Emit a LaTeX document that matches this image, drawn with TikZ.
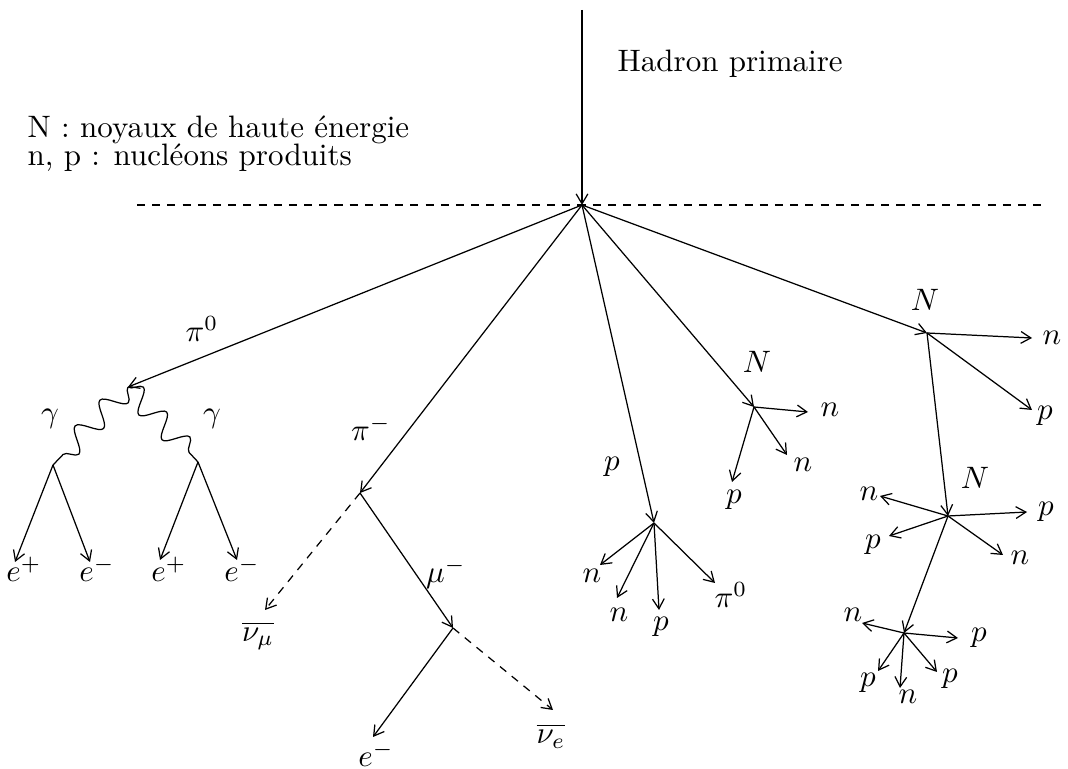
\documentclass[tikz,border=0pt]{standalone}
\usepackage{amsmath,amssymb}
\usepackage{tikz}
\usetikzlibrary{arrows.meta, decorations.pathmorphing}

\begin{document}
\begin{tikzpicture}[
    x=0.3226pt, y=-0.3226pt,
    arrow/.style={-{Straight Barb[length=3.2pt, width=3.8pt]}},
    nuarrow/.style={arrow, dash pattern=on 2.6pt off 2.3pt},
    axis/.style={dash pattern=on 2.6pt off 2.3pt},
    photon/.style={decorate, decoration={snake, amplitude=3.6pt, segment length=#1}},
    lbl/.style={inner sep=0pt},
    elbl/.style={inner sep=0pt, anchor=base},
]
\useasboundingbox (0,0) rectangle (1068,769);

% vertices
\coordinate (top) at (582,10);
\coordinate (v0) at (582,205);
\coordinate (hl) at (137,205);
\coordinate (hr) at (1045,205);
\coordinate (g0) at (128,387);
\coordinate (g1) at (53,465);
\coordinate (g2) at (198,462);
\coordinate (pim) at (360,493);
\coordinate (mu) at (453,628);
\coordinate (pv) at (654,523);
\coordinate (n1) at (754,407);
\coordinate (n2) at (927,333);
\coordinate (n3) at (948,516);
\coordinate (n4) at (904,633);

% free ends
\coordinate (e1) at (15,562);
\coordinate (e2) at (90,562);
\coordinate (e3) at (160,560);
\coordinate (e4) at (237,560);
\coordinate (num) at (265,610);
\coordinate (em) at (373,737);
\coordinate (nue) at (553,710);
\coordinate (pv1) at (600,565);
\coordinate (pv2) at (617,598);
\coordinate (pv3) at (659,610);
\coordinate (pv4) at (715,583);
\coordinate (n1a) at (808,412);
\coordinate (n1b) at (787,455);
\coordinate (n1c) at (732,482);
\coordinate (n2a) at (1032,338);
\coordinate (n2b) at (1032,410);
\coordinate (n3a) at (880,496);
\coordinate (n3b) at (1027,512);
\coordinate (n3c) at (889,536);
\coordinate (n3d) at (1003,555);
\coordinate (n4a) at (862,623);
\coordinate (n4b) at (958,638);
\coordinate (n4c) at (878,671);
\coordinate (n4d) at (900,688);
\coordinate (n4e) at (937,672);

% texts
\node[lbl, anchor=base west] (hadron) at (617,72) {Hadron primaire};
\node[lbl, anchor=base west] (leg1) at (27,138) {N : noyaux de haute énergie};
\node[lbl, anchor=base west] (leg2) at (27,166) {n, p : nucléons produits};

\node[lbl] (lpi0) at (202,329) {$\pi^0$};
\node[lbl] (lga1) at (50,419) {$\gamma$};
\node[lbl] (lga2) at (212,419) {$\gamma$};
\node[elbl] (le1) at (24,582) {$e^+$};
\node[elbl] (le2) at (97,582) {$e^-$};
\node[elbl] (le3) at (169,582) {$e^+$};
\node[elbl] (le4) at (242,582) {$e^-$};
\node[lbl] (lpim) at (371,428) {$\pi^-$};
\node[lbl] (lnum) at (258,636) {$\overline{\nu_\mu}$};
\node[lbl] (lmu) at (446,573) {$\mu^-$};
\node[lbl] (lem) at (376,754) {$e^-$};
\node[lbl] (lnue) at (551,736) {$\overline{\nu_e}$};
\node[lbl] (lp) at (612,467) {$p$};
\node[lbl] (lpv1) at (592,576) {$n$};
\node[lbl] (lpv2) at (619,615) {$n$};
\node[lbl] (lpv3) at (661,627) {$p$};
\node[lbl] (lpv4) at (731,595) {$\pi^0$};
\node[lbl] (ln1) at (757,362) {$N$};
\node[lbl] (ln1a) at (830,410) {$n$};
\node[lbl] (ln1b) at (803,465) {$n$};
\node[lbl] (ln1c) at (734,500) {$p$};
\node[lbl] (ln2) at (925,300) {$N$};
\node[lbl] (ln2a) at (1052,338) {$n$};
\node[lbl] (ln2b) at (1045,416) {$p$};
\node[lbl] (ln3) at (975,478) {$N$};
\node[lbl] (ln3a) at (869,494) {$n$};
\node[lbl] (ln3b) at (1046,512) {$p$};
\node[lbl] (ln3c) at (873,545) {$p$};
\node[lbl] (ln3d) at (1020,558) {$n$};
\node[lbl] (ln4a) at (853,615) {$n$};
\node[lbl] (ln4b) at (979,638) {$p$};
\node[lbl] (ln4c) at (868,683) {$p$};
\node[lbl] (ln4d) at (908,697) {$n$};
\node[lbl] (ln4e) at (950,679) {$p$};

% tracks
\draw[arrow] (top) -- (v0);
\draw[axis] (hl) -- (hr);

\draw[arrow] (v0) -- (g0);
\draw[photon=11.5pt] (g0) -- (g1);
\draw[photon=11pt] (g0) -- (g2);
\draw[arrow] (g1) -- (e1);
\draw[arrow] (g1) -- (e2);
\draw[arrow] (g2) -- (e3);
\draw[arrow] (g2) -- (e4);

\draw[arrow] (v0) -- (pim);
\draw[nuarrow] (pim) -- (num);
\draw[arrow] (pim) -- (mu);
\draw[arrow] (mu) -- (em);
\draw[nuarrow] (mu) -- (nue);

\draw[arrow] (v0) -- (pv);
\draw[arrow] (pv) -- (pv1);
\draw[arrow] (pv) -- (pv2);
\draw[arrow] (pv) -- (pv3);
\draw[arrow] (pv) -- (pv4);

\draw[arrow] (v0) -- (n1);
\draw[arrow] (n1) -- (n1a);
\draw[arrow] (n1) -- (n1b);
\draw[arrow] (n1) -- (n1c);

\draw[arrow] (v0) -- (n2);
\draw[arrow] (n2) -- (n2a);
\draw[arrow] (n2) -- (n2b);
\draw[arrow] (n2) -- (n3);
\draw[arrow] (n3) -- (n3a);
\draw[arrow] (n3) -- (n3b);
\draw[arrow] (n3) -- (n3c);
\draw[arrow] (n3) -- (n3d);
\draw[arrow] (n3) -- (n4);
\draw[arrow] (n4) -- (n4a);
\draw[arrow] (n4) -- (n4b);
\draw[arrow] (n4) -- (n4c);
\draw[arrow] (n4) -- (n4d);
\draw[arrow] (n4) -- (n4e);
\end{tikzpicture}
\end{document}
